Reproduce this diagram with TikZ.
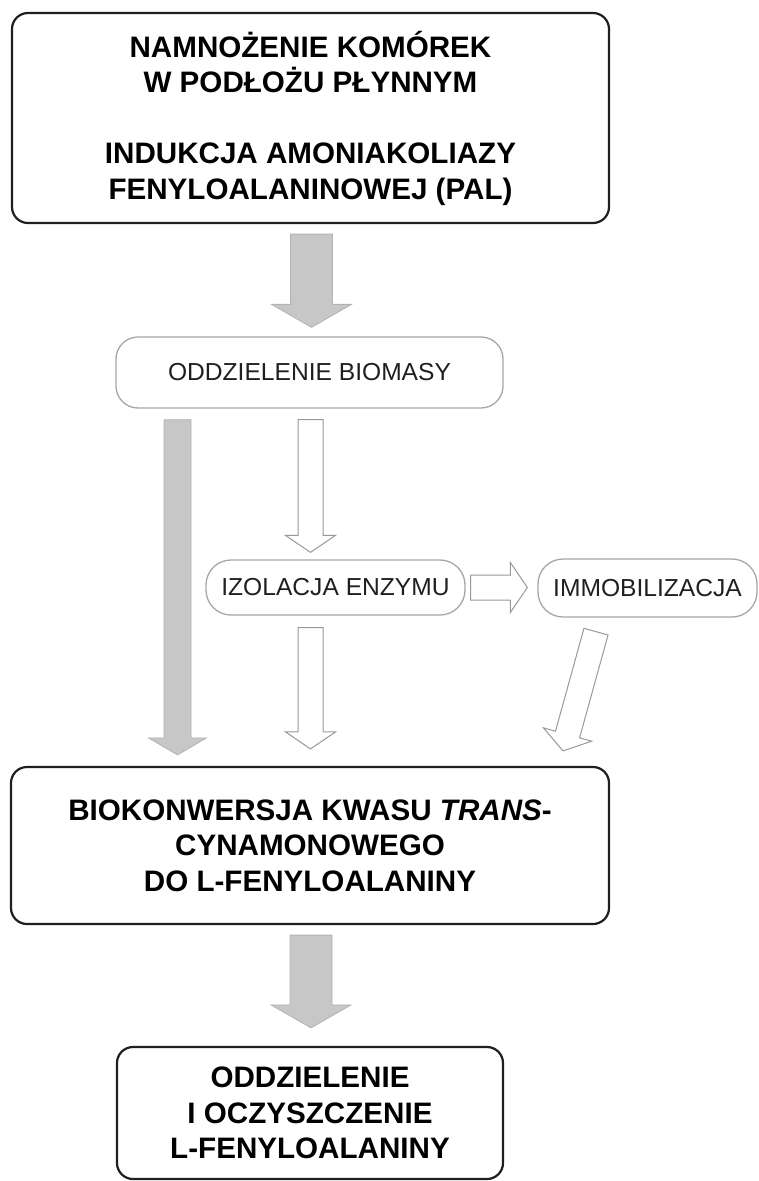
\documentclass[tikz,border=0pt]{standalone}
\usepackage{fontspec}
\setmainfont{Liberation Sans}
\usetikzlibrary{calc}

\tikzset{
    mainbox/.style={draw=black!88, line width=2.2pt, rounded corners=16pt, align=center,
        inner sep=0pt, font=\bfseries\fontsize{29.6}{35.5}\selectfont},
    stepbox/.style={draw=black!35, line width=1.3pt, rounded corners=22pt, align=center,
        inner sep=0pt, text=black!88, font=\fontsize{24.6}{29}\selectfont},
    arrsize/.code n args={3}{\def\shaftw{#1}\def\headw{#2}\def\headl{#3}},
    bigarrow/.style={arrsize={21pt}{40pt}{23pt}, fill=black!22, draw=black!30, line width=0.8pt},
    longarrow/.style={arrsize={13.5pt}{29pt}{17pt}, fill=black!22, draw=black!30, line width=0.8pt},
    thinarrow/.style={arrsize={12.5pt}{25pt}{17pt}, fill=white, draw=black!40, line width=1pt},
}

% block arrow from #2 to #3
\newcommand{\blockarrow}[3][]{%
    \path[#1] ($(#3)!\headl!(#2)$) coordinate (ba-base);
    \filldraw[#1] ($(#2)!\shaftw!90:(#3)$) -- ($(ba-base)!\shaftw!90:(#3)$)
        -- ($(ba-base)!\headw!90:(#3)$) -- (#3) -- ($(ba-base)!\headw!-90:(#3)$)
        -- ($(ba-base)!\shaftw!-90:(#3)$) -- ($(#2)!\shaftw!-90:(#3)$) -- cycle;
}

\begin{document}
\begin{tikzpicture}[x=1pt, y=-1pt]
    \useasboundingbox (0, 0) rectangle (759, 1181);
    % \draw[lightgray] (0, 0) grid[step=50] (759, 1181);
    \node[mainbox, minimum width=597pt, minimum height=210pt] (namno) at (310.5, 118)
        {NAMNOŻENIE KOMÓREK\\W PODŁOŻU PŁYNNYM\\[35.5pt]INDUKCJA AMONIAKOLIAZY\\FENYLOALANINOWEJ (PAL)};
    \node[stepbox, minimum width=387pt, minimum height=71pt] (biomasa) at (309.5, 372.5) {ODDZIELENIE BIOMASY};
    \node[stepbox, minimum width=259pt, minimum height=55pt, rounded corners=25pt] (izol) at (335.5, 587.5) {IZOLACJA ENZYMU};
    \node[stepbox, minimum width=219pt, minimum height=58pt, rounded corners=25pt] (immob) at (647.5, 588) {IMMOBILIZACJA};
    \node[mainbox, minimum width=598pt, minimum height=157pt] (biokonw) at (310, 845.5)
        {BIOKONWERSJA KWASU \textit{TRANS}-\\CYNAMONOWEGO\\DO L-FENYLOALANINY};
    \node[mainbox, minimum width=386pt, minimum height=132pt] (oczysz) at (310, 1113)
        {ODDZIELENIE\\I OCZYSZCZENIE\\L-FENYLOALANINY};

    \coordinate (a1s) at ($(namno.south)+(1, 10)$);
    \coordinate (a1e) at ($(biomasa.north)+(2, -9)$);
    \coordinate (g1s) at ($(177.5, 0 |- biomasa.south)+(0, 11)$);
    \coordinate (g1e) at ($(177.5, 0 |- biokonw.north)+(0, -11)$);
    \coordinate (w1s) at ($(310.5, 0 |- biomasa.south)+(0, 11)$);
    \coordinate (w1e) at ($(310.5, 0 |- izol.north)+(0, -7)$);
    \coordinate (r1s) at ($(izol.east)+(5, 0)$);
    \coordinate (r1e) at ($(immob.west |- izol.east)+(-10, 0)$);
    \coordinate (w2s) at ($(310.5, 0 |- izol.south)+(0, 12)$);
    \coordinate (w2e) at ($(310.5, 0 |- biokonw.north)+(0, -17)$);
    \coordinate (d1s) at ($(596, 0 |- immob.south)+(0, 14)$);
    \coordinate (d1e) at ($(563, 0 |- biokonw.north)+(0, -15)$);
    \coordinate (a2s) at ($(biokonw.south)+(1, 10)$);
    \coordinate (a2e) at ($(oczysz.north)+(1, -18)$);

    \blockarrow[bigarrow]{a1s}{a1e}
    \blockarrow[longarrow]{g1s}{g1e}
    \blockarrow[thinarrow]{w1s}{w1e}
    \blockarrow[thinarrow]{r1s}{r1e}
    \blockarrow[thinarrow]{w2s}{w2e}
    \blockarrow[thinarrow]{d1s}{d1e}
    \blockarrow[bigarrow]{a2s}{a2e}
\end{tikzpicture}
\end{document}
